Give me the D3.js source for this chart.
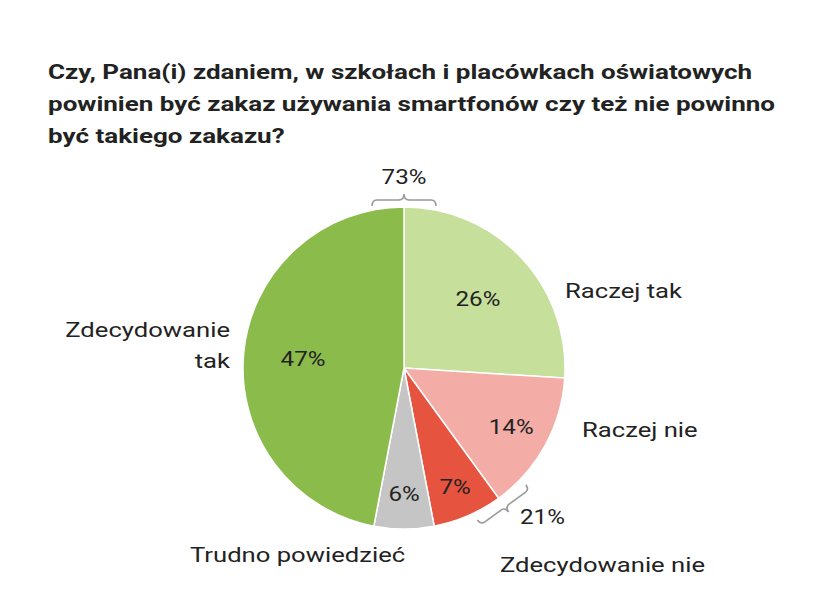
<!DOCTYPE html>
<html><head><meta charset="utf-8">
<script src="https://cdn.jsdelivr.net/npm/d3@7"></script>
<style>body{margin:0;background:#fff}text{font-family:Roboto,sans-serif}</style>
</head><body><svg width="828" height="616"></svg>
<script>
const categories=["Raczej tak","Raczej nie","Zdecydowanie nie","Trudno powiedzieć","Zdecydowanie tak"];
const values=[26,14,7,6,47];
const colors=["#c6df9b","#f4aca6","#e6533f","#c5c5c5","#8bbb4b"];
const groupLabels=["73%","21%"];

const svg=d3.select("svg");
const cx=404,cy=368,R=161;
function stretch(sel,f){sel.each(function(){const L=this.getComputedTextLength();d3.select(this).attr("textLength",L*f).attr("lengthAdjust","spacingAndGlyphs");});}
const title=["Czy, Pana(i) zdaniem, w szkołach i placówkach oświatowych","powinien być zakaz używania smartfonów czy też nie powinno","być takiego zakazu?"];
const tt=svg.append("g");
title.forEach((d,i)=>tt.append("text").attr("x",48).attr("y",79+i*32).attr("font-size",20).attr("font-weight","bold").attr("fill","#222").text(d));
stretch(tt.selectAll("text"),1.3);

const pie=d3.pie().sort(null).value(d=>d)(values);
const arc=d3.arc().innerRadius(0).outerRadius(R);
const g=svg.append("g").attr("transform",`translate(${cx},${cy})`);
g.selectAll("path").data(pie).join("path").attr("d",arc).attr("fill",(d,i)=>colors[i]).attr("stroke","#fff").attr("stroke-width",1.5);

const pr=[0.63,0.76,0.8,0.78,0.63];
const pt=g.selectAll("text.p").data(pie).join("text").attr("class","p")
 .attr("x",(d,i)=>Math.sin((d.startAngle+d.endAngle)/2)*R*pr[i])
 .attr("y",(d,i)=>-Math.cos((d.startAngle+d.endAngle)/2)*R*pr[i])
 .attr("text-anchor","middle").attr("dy","0.35em").attr("font-size",21).attr("fill","#222")
 .text(d=>d.data+"%");
stretch(pt,1.15);

const lab=[[565,298,"start"],[582,437,"start"],[500,572,"start"],[190,562,"start"],[230,337,"end"]];
const lg=svg.append("g");
categories.forEach((c,i)=>{
  if(i===4){
    lg.append("text").attr("x",lab[i][0]).attr("y",lab[i][1]).attr("text-anchor","end").attr("font-size",21).attr("fill","#222").text("Zdecydowanie");
    lg.append("text").attr("x",lab[i][0]).attr("y",lab[i][1]+31).attr("text-anchor","end").attr("font-size",21).attr("fill","#222").text("tak");
  } else lg.append("text").attr("x",lab[i][0]).attr("y",lab[i][1]).attr("text-anchor",lab[i][2]).attr("font-size",21).attr("fill","#222").text(c);
});
stretch(lg.selectAll("text"),1.22);

function brace(angleDeg,off,w,h){
  const p=`M${-w},0 Q${-w},${-h/2} ${-w+5},${-h/2} L-5,${-h/2} Q0,${-h/2} 0,${-h} Q0,${-h/2} 5,${-h/2} L${w-5},${-h/2} Q${w},${-h/2} ${w},0`;
  svg.append("path").attr("d",p).attr("fill","none").attr("stroke","#999").attr("stroke-width",1.6)
   .attr("transform",`translate(${cx},${cy}) rotate(${angleDeg}) translate(0,${-(R+off)})`);
}
brace(0,1,32,12);
brace(pie[1].endAngle*180/Math.PI,5,30,12);
const gl=svg.append("g");
gl.append("text").attr("x",404).attr("y",184).attr("text-anchor","middle").attr("font-size",21).attr("fill","#222").text(groupLabels[0]);
gl.append("text").attr("x",520).attr("y",524).attr("font-size",21).attr("fill","#222").text(groupLabels[1]);
stretch(gl.selectAll("text"),1.15);
</script></body></html>
